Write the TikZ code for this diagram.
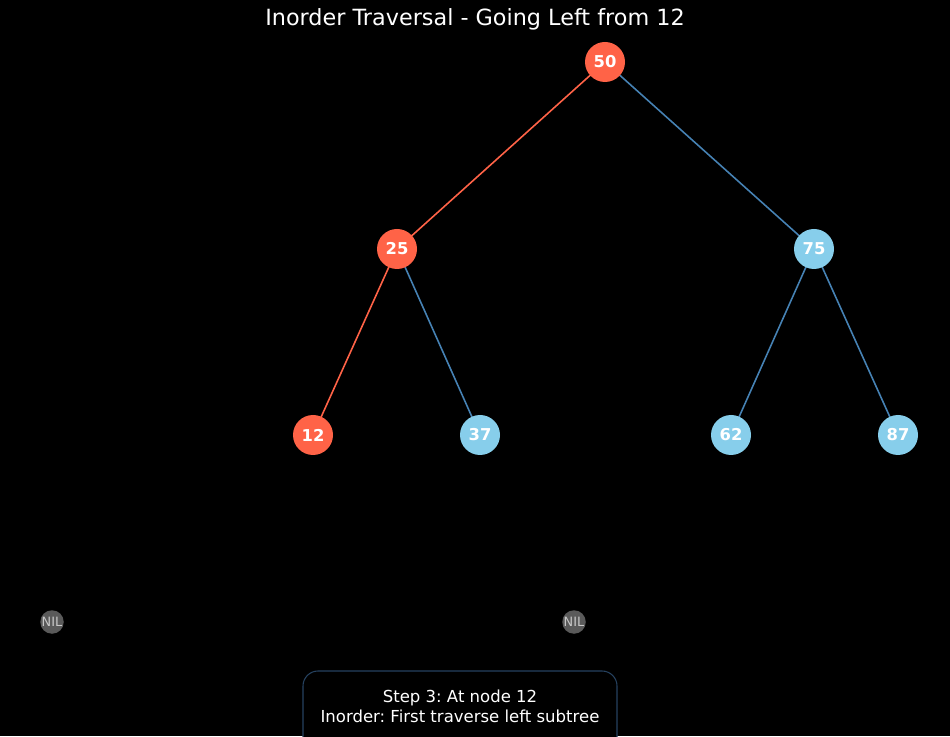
\documentclass[tikz,border=0pt]{standalone}
\usepackage{fontspec}
\setmainfont{DejaVu Sans}
\usetikzlibrary{positioning}
\frenchspacing
\definecolor{hotnode}{HTML}{FF6347}
\definecolor{coldnode}{HTML}{87CEEB}
\definecolor{coldedge}{HTML}{4682B4}
\definecolor{nilgray}{HTML}{5A5A5A}
\definecolor{niltext}{HTML}{C8C8C8}
\definecolor{boxedge}{RGB}{38,66,96}
\tikzset{visited/.style={circle,fill=hotnode,minimum size=0.8cm,inner sep=0pt,text=white,font=\fontsize{9.3}{10}\selectfont\bfseries},
		unvisited/.style={circle,fill=coldnode,minimum size=0.8cm,inner sep=0pt,text=white,font=\fontsize{9.3}{10}\selectfont\bfseries},
		nilnode/.style={circle,fill=nilgray,minimum size=0.47cm,inner sep=0pt,text=niltext,font=\fontsize{7.3}{8}\selectfont},
		hotEdge/.style={-,line width=0.9pt,color=hotnode},
		coldEdge/.style={-,line width=0.9pt,color=coldedge},
		every node/.style={align=center}}

\begin{document}
\begin{tikzpicture}
	\fill[black] (0,0) rectangle (19,14.72);
	\useasboundingbox (0,0) rectangle (19,14.72);
	\node at (9.5,14.33) [text=white,font=\fontsize{12.7}{14}\selectfont] (title){Inorder Traversal - Going Left from 12};
	% edges first, nodes on top
	\coordinate (p50) at (12.10,13.48);
	\coordinate (p25) at (7.94,9.74);
	\coordinate (p75) at (16.28,9.74);
	\coordinate (p12) at (6.26,6.02);
	\coordinate (p37) at (9.60,6.02);
	\coordinate (p62) at (14.62,6.02);
	\coordinate (p87) at (17.96,6.02);
	\draw (p50) edge[hotEdge] (p25);
	\draw (p50) edge[coldEdge] (p75);
	\draw (p25) edge[hotEdge] (p12);
	\draw (p25) edge[coldEdge] (p37);
	\draw (p75) edge[coldEdge] (p62);
	\draw (p75) edge[coldEdge] (p87);
	\node at (p50) [visited] (50){50};
	\node at (p25) [visited] (25){25};
	\node at (p75) [unvisited] (75){75};
	\node at (p12) [visited] (12){12};
	\node at (p37) [unvisited] (37){37};
	\node at (p62) [unvisited] (62){62};
	\node at (p87) [unvisited] (87){87};
	%nil leaves
	\node at (1.04,2.28) [nilnode] (nilA){NIL};
	\node at (11.48,2.28) [nilnode] (nilB){NIL};
	% status box
	\draw[boxedge,line width=0.6pt,rounded corners=0.3cm,fill=black] (6.06,-0.4) rectangle (12.34,1.30);
	\node at (9.2,0.60) [text=white,font=\fontsize{9.4}{11.3}\selectfont] (status){Step 3: At node 12\\Inorder: First traverse left subtree};
\end{tikzpicture}
\end{document}
